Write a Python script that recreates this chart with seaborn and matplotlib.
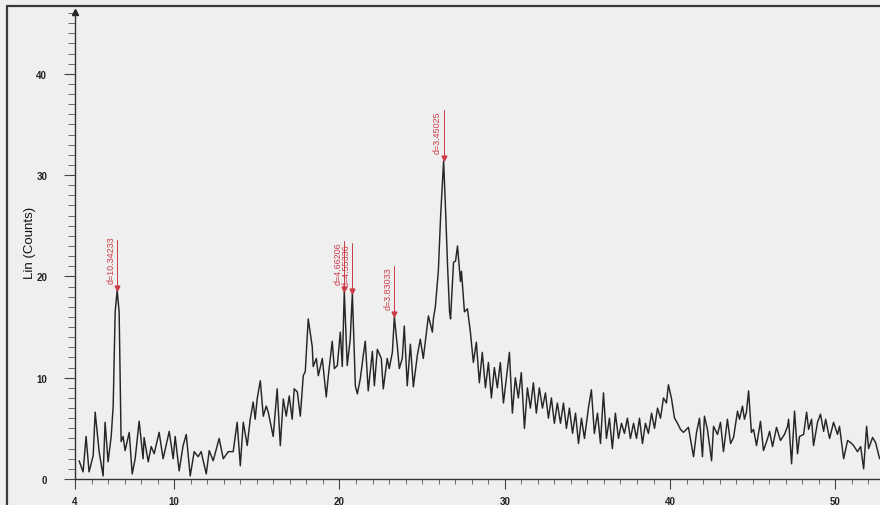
import matplotlib
matplotlib.use("Agg")
import matplotlib.pyplot as plt
import seaborn as sns
import pandas as pd
from matplotlib.lines import Line2D

# ---- data ----
two_theta = [
    4.25, 4.49, 4.67, 4.85, 5.10, 5.22, 5.46, 5.70, 5.82, 6.00, 6.19, 6.31, 6.43, 6.55, 6.67, 6.79,
    6.91, 7.03, 7.28, 7.46, 7.64, 7.88, 8.12, 8.18, 8.43, 8.61, 8.79, 9.09, 9.33, 9.70, 9.94, 10.06,
    10.30, 10.54, 10.73, 10.97, 11.21, 11.45, 11.63, 11.94, 12.12, 12.36, 12.72, 12.97, 13.27, 13.57,
    13.81, 14.00, 14.18, 14.42, 14.60, 14.78, 14.90, 15.02, 15.21, 15.39, 15.57, 15.69, 15.99, 16.23,
    16.42, 16.60, 16.78, 16.96, 17.14, 17.26, 17.45, 17.63, 17.81, 17.93, 18.11, 18.35, 18.41, 18.60,
    18.72, 18.96, 19.20, 19.32, 19.56, 19.69, 19.87, 20.05, 20.17, 20.29, 20.47, 20.65, 20.78, 20.96,
    21.08, 21.26, 21.44, 21.56, 21.74, 21.99, 22.11, 22.29, 22.53, 22.65, 22.89, 23.01, 23.20, 23.32,
    23.50, 23.62, 23.80, 23.92, 24.10, 24.29, 24.47, 24.71, 24.89, 25.07, 25.19, 25.38, 25.62, 25.68,
    25.80, 25.98, 26.12, 26.30, 26.42, 26.54, 26.66, 26.72, 26.90, 27.02, 27.14, 27.32, 27.38, 27.56,
    27.74, 27.92, 28.10, 28.28, 28.46, 28.64, 28.83, 29.01, 29.19, 29.37, 29.55, 29.73, 29.92, 30.10,
    30.28, 30.46, 30.64, 30.82, 31.00, 31.19, 31.37, 31.55, 31.73, 31.91, 32.09, 32.28, 32.46, 32.64,
    32.82, 33.00, 33.18, 33.37, 33.55, 33.73, 33.91, 34.10, 34.28, 34.46, 34.64, 34.82, 35.06, 35.24,
    35.42, 35.61, 35.79, 35.97, 36.15, 36.33, 36.51, 36.69, 36.88, 37.06, 37.24, 37.42, 37.60, 37.79,
    37.97, 38.15, 38.33, 38.51, 38.69, 38.88, 39.06, 39.24, 39.42, 39.60, 39.78, 39.90, 40.08, 40.27,
    40.45, 40.63, 40.81, 41.11, 41.42, 41.60, 41.78, 41.96, 42.08, 42.26, 42.51, 42.63, 42.87, 43.05,
    43.23, 43.47, 43.66, 43.84, 44.08, 44.20, 44.38, 44.50, 44.62, 44.75, 44.92, 45.05, 45.23, 45.47,
    45.65, 45.90, 46.02, 46.20, 46.44, 46.68, 46.92, 47.11, 47.17, 47.35, 47.53, 47.71, 47.83, 48.08,
    48.26, 48.38, 48.56, 48.68, 48.92, 49.10, 49.29, 49.41, 49.65, 49.89, 50.13, 50.25, 50.50, 50.74,
    50.92, 51.10, 51.34, 51.53, 51.71, 51.89, 52.01, 52.25, 52.43, 52.68,
]
counts = [
    1.8, 0.7, 4.2, 0.7, 2.3, 6.6, 2.7, 0.3, 5.6, 1.7, 4.2, 7.2, 16.5, 18.6, 16.5, 3.7,
    4.2, 2.8, 4.6, 0.5, 2.0, 5.7, 2.0, 4.1, 1.7, 3.2, 2.5, 4.6, 2.0, 4.7, 2.0, 4.2,
    0.8, 3.3, 4.4, 0.3, 2.7, 2.2, 2.7, 0.5, 2.8, 1.8, 4.0, 2.0, 2.7, 2.7,
    5.6, 1.3, 5.6, 3.3, 5.9, 7.6, 5.9, 7.9, 9.7, 6.2, 7.2, 6.6, 4.2, 8.9,
    3.3, 7.9, 6.2, 8.2, 5.9, 8.9, 8.6, 6.2, 10.2, 10.6, 15.8, 13.1, 11.1, 11.9,
    10.2, 11.9, 8.1, 10.1, 13.6, 10.9, 11.2, 14.5, 11.1, 18.5, 11.2, 13.8, 18.3, 9.2,
    8.4, 9.9, 12.2, 13.6, 8.7, 12.6, 9.2, 12.8, 11.9, 8.9, 11.9, 10.9, 12.5, 16.0,
    13.1, 10.9, 11.9, 15.1, 9.2, 13.3, 9.1, 12.2, 13.8, 11.9, 13.5, 16.1, 14.5, 15.8,
    17.0, 20.5, 26.0, 31.4, 26.5, 21.0, 16.5, 15.8, 21.4, 21.5, 23.0, 19.5, 20.5, 16.5,
    16.8, 14.5, 11.5, 13.5, 9.5, 12.5, 9.0, 11.5, 8.0, 11.0, 9.0, 11.5, 7.5, 10.0,
    12.5, 6.5, 10.0, 8.0, 10.5, 5.0, 9.0, 7.0, 9.5, 6.5, 9.0, 7.0, 8.5, 6.0,
    8.0, 5.5, 7.5, 5.5, 7.5, 5.0, 7.0, 4.5, 6.5, 3.5, 6.0, 4.0, 7.0, 8.8,
    4.5, 6.5, 3.5, 8.5, 4.0, 6.0, 3.0, 6.5, 4.0, 5.5, 4.5, 6.0, 4.0, 5.5,
    4.0, 6.0, 3.5, 5.5, 4.5, 6.5, 5.0, 7.0, 6.0, 8.0, 7.5, 9.3, 8.0, 6.0,
    5.5, 4.9, 4.6, 5.1, 2.2, 4.6, 6.0, 2.2, 6.2, 4.9, 1.8, 5.2, 4.4, 5.6,
    2.7, 5.9, 3.5, 4.1, 6.7, 5.9, 7.2, 5.9, 6.6, 8.7, 4.6, 4.9, 3.3, 5.7,
    2.8, 4.0, 4.7, 3.2, 5.1, 3.8, 4.4, 5.2, 5.9, 1.5, 6.7, 2.5, 4.2, 4.4,
    6.6, 4.9, 5.9, 3.3, 5.6, 6.4, 4.7, 5.9, 4.0, 5.6, 4.4, 5.2, 2.0, 3.8,
    3.6, 3.3, 2.7, 3.2, 1.0, 5.2, 3.0, 4.1, 3.6, 2.0,
]

peak_2theta = [6.55, 20.29, 20.78, 23.32, 26.30]
peak_counts = [18.6, 18.5, 18.3, 16.0, 31.4]
peak_labels = ["d=10.34233", "d=4.66206", "d=4.55336", "d=3.83033", "d=3.45025"]

x_ticks = [4, 10, 20, 30, 40, 50]
y_ticks = [0, 10, 20, 30, 40]
y_label = "Lin (Counts)"

# ---- figure ----
sns.set_style("ticks")
plt.rcParams["font.family"] = ["Liberation Sans", "DejaVu Sans"]
bg = "#efefef"
fig = plt.figure(figsize=(8.8, 5.06), dpi=100, facecolor=bg)
W, H = 880, 506
ax = fig.add_axes([75 / W, 26 / H, (880 - 75) / W, (480 - 14) / H])
ax.set_facecolor(bg)

df = pd.DataFrame({"two_theta": two_theta, "counts": counts})
sns.lineplot(data=df, x="two_theta", y="counts", ax=ax, color="#262626",
             linewidth=1.05, estimator=None, sort=False)

ax.set_xlim(4, 52.7)
ax.set_ylim(0, 46)
ax.set_xticks(x_ticks)
ax.set_xticklabels([str(t) for t in x_ticks])
ax.set_xticks(range(5, 53), minor=True)
ax.set_yticks(y_ticks)
ax.set_yticklabels([str(t) for t in y_ticks])
ax.set_yticks(range(1, 47), minor=True)
ax.set_xlabel("")
ax.set_ylabel("")

for s in ["top", "right"]:
    ax.spines[s].set_visible(False)
for s in ["left", "bottom"]:
    ax.spines[s].set_color("#333333")
    ax.spines[s].set_linewidth(1.0)

ax.tick_params(axis="x", which="major", length=7, width=0.8, color="#444444",
               labelsize=7, pad=5, direction="out")
ax.tick_params(axis="x", which="minor", length=3.5, width=0.6, color="#555555", direction="out")
ax.tick_params(axis="y", which="major", length=8, width=0.8, color="#444444",
               labelsize=7, pad=12, direction="out")
ax.tick_params(axis="y", which="minor", length=5, width=0.6, color="#555555", direction="out")
for lab in ax.get_xticklabels() + ax.get_yticklabels():
    lab.set_fontweight("bold")
    lab.set_color("#222222")

# arrow at the top of the y axis
ax.plot([4.02], [46.1], marker="^", markersize=4, color="#222222", clip_on=False)

# peak annotations
red = "#cc3a46"
for px, py, lab in zip(peak_2theta, peak_counts, peak_labels):
    ax.plot([px, px], [py + 0.3, py + 5.0], color=red, linewidth=0.7)
    ax.plot([px], [py + 0.3], marker="v", markersize=3.5, color=red, linestyle="none")
    ax.text(px - 0.1, py + 0.75, lab, rotation=90, ha="right", va="bottom",
            fontsize=6.4, color=red)

fig.text(30 / W, 1 - 243 / H, y_label, rotation=90, ha="center", va="center",
         fontsize=9.5, color="#111111")

# scanned frame
fig.add_artist(Line2D([7 / W, 7 / W], [0, 1 - 7 / H], color="#3a3a3a", linewidth=1.6,
                      transform=fig.transFigure))
fig.add_artist(Line2D([7 / W, 1], [1 - 7 / H, 1 - 7 / H], color="#3a3a3a", linewidth=1.6,
                      transform=fig.transFigure))

fig.savefig("out.png", dpi=100, facecolor=bg)
